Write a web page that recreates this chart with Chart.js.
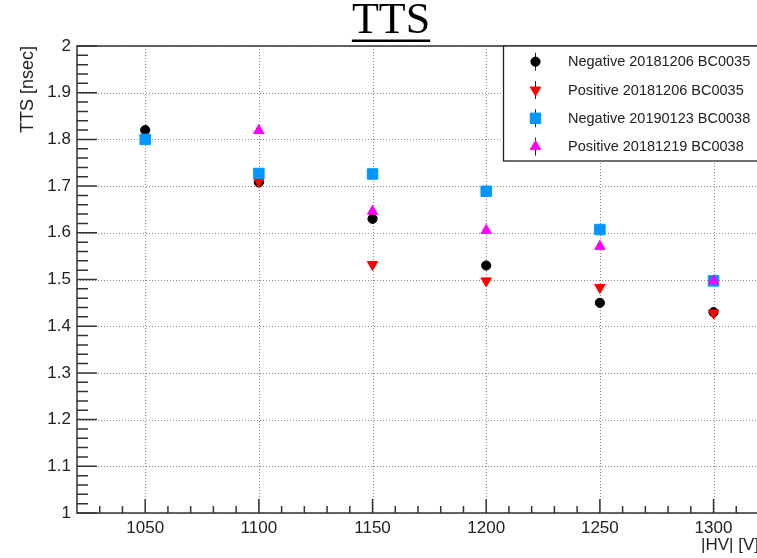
<!DOCTYPE html>
<html>
<head>
<meta charset="utf-8">
<script src="https://cdn.jsdelivr.net/npm/chart.js@4.4.1/dist/chart.umd.min.js"></script>
<style>
    html, body { margin: 0; padding: 0; background: #fff; overflow: hidden; }
    #okno { width: 757px; height: 558px; overflow: hidden; }
</style>
</head>
<body>
<div id="okno"><canvas id="wykres" width="790" height="558"></canvas></div>
<script>
// dane
const napiecia = [1050, 1100, 1150, 1200, 1250, 1300];
const neg20181206 = [1.82, 1.708, 1.63, 1.53, 1.45, 1.43];
const poz20181206 = [null, 1.71, 1.532, 1.497, 1.483, 1.428];
const neg20190123 = [1.80, 1.727, 1.726, 1.689, 1.607, 1.497];
const poz20181219 = [null, 1.819, 1.646, 1.605, 1.571, 1.497];
const nazwySerii = ['Negative 20181206 BC0035', 'Positive 20181206 BC0035', 'Negative 20190123 BC0038', 'Positive 20181219 BC0038'];
const xTicki = [1050, 1100, 1150, 1200, 1250, 1300];
const yTicki = [1, 1.1, 1.2, 1.3, 1.4, 1.5, 1.6, 1.7, 1.8, 1.9, 2];

const czcionka = '"Liberation Sans", Arial, Helvetica, sans-serif';

function punkty(wartosci) {
    return napiecia.map((x, i) => ({ x: x, y: wartosci[i] }));
}

const serie = [
    { dane: neg20181206, kolor: '#000000', styl: 'circle', promien: 4.6, obrot: 0 },
    { dane: poz20181206, kolor: '#ff0000', styl: 'triangle', promien: 6, obrot: 180 },
    { dane: neg20190123, kolor: '#0096ff', styl: 'rect', promien: 7.4, obrot: 0 },
    { dane: poz20181219, kolor: '#ff00ff', styl: 'triangle', promien: 6, obrot: 0 }
];

const datasets = serie.map((s, i) => ({
    label: nazwySerii[i],
    data: punkty(s.dane),
    backgroundColor: s.kolor,
    borderColor: s.kolor,
    borderWidth: 1,
    pointStyle: s.styl,
    pointRadius: s.promien,
    pointHoverRadius: s.promien,
    pointRotation: s.obrot,
    order: serie.length - i, // ostatnia seria rysowana na wierzchu
    showLine: false
}));

// siatka kropkowana, ramka i ticki do srodka (styl ROOT)
const ramka = {
    id: 'ramka',
    beforeDatasetsDraw(chart) {
        const { ctx, chartArea: a, scales: { x, y } } = chart;
        ctx.save();
        ctx.strokeStyle = '#8a8a8a';
        ctx.lineWidth = 1;
        ctx.setLineDash([1, 2]);
        xTicki.forEach(v => {
            const px = Math.round(x.getPixelForValue(v)) + 0.5;
            ctx.beginPath(); ctx.moveTo(px, a.top); ctx.lineTo(px, a.bottom); ctx.stroke();
        });
        yTicki.forEach(v => {
            const py = Math.round(y.getPixelForValue(v)) + 0.5;
            ctx.beginPath(); ctx.moveTo(a.left, py); ctx.lineTo(a.right, py); ctx.stroke();
        });
        ctx.restore();
    },
    afterDatasetsDraw(chart) {
        const { ctx, chartArea: a, scales: { x, y } } = chart;
        ctx.save();
        ctx.strokeStyle = '#333';
        ctx.lineWidth = 1.5;
        ctx.strokeRect(a.left, a.top, a.right - a.left, a.bottom - a.top);
        ctx.beginPath();
        // y: co 0.02, glowne co 0.1
        for (let i = 0; i <= 50; i++) {
            const py = y.getPixelForValue(1 + i * 0.02);
            const dl = i % 5 === 0 ? 20 : 11;
            ctx.moveTo(a.left, py); ctx.lineTo(a.left + dl, py);
        }
        // x: co 10, glowne co 50
        for (let v = x.min + 10; v < x.max; v += 10) {
            const px = x.getPixelForValue(v);
            const dl = v % 50 === 0 ? 14 : 7;
            ctx.moveTo(px, a.bottom); ctx.lineTo(px, a.bottom - dl);
        }
        ctx.stroke();
        ctx.restore();
    },
    afterDraw(chart) {
        const { ctx, chartArea: a } = chart;
        ctx.save();
        // tytul podkreslony
        ctx.font = '44px "Liberation Serif", "Times New Roman", serif';
        ctx.fillStyle = '#000';
        ctx.textAlign = 'center';
        ctx.textBaseline = 'alphabetic';
        const tekst = 'TTS';
        const sx = 391;
        ctx.fillText(tekst, sx, 33);
        const w = ctx.measureText(tekst).width;
        ctx.fillRect(sx - w / 2, 39.5, w, 2.5);

        // legenda
        const lewo = 503.5, gora = a.top, dol = 161;
        ctx.fillStyle = '#fff';
        ctx.fillRect(lewo, gora, a.right - lewo, dol - gora);
        ctx.strokeStyle = '#222';
        ctx.lineWidth = 1.3;
        ctx.strokeRect(lewo, gora, a.right - lewo, dol - gora);
        ctx.font = '14.5px ' + czcionka;
        ctx.textAlign = 'left';
        ctx.textBaseline = 'middle';
        chart.data.datasets.forEach((ds, i) => {
            const yy = 61.7 + i * 28.3;
            ctx.strokeStyle = '#222';
            ctx.lineWidth = 1;
            ctx.beginPath(); ctx.moveTo(535.5, yy - 9); ctx.lineTo(535.5, yy + 9); ctx.stroke();
            ctx.fillStyle = ds.backgroundColor;
            ctx.strokeStyle = ds.borderColor;
            Chart.helpers.drawPoint(ctx, { pointStyle: ds.pointStyle, radius: ds.pointRadius, rotation: ds.pointRotation, borderWidth: 1 }, 535.5, yy);
            ctx.fillStyle = '#222';
            ctx.fillText(ds.label, 568, yy + 0.5);
        });
        ctx.restore();
    }
};

new Chart(document.getElementById('wykres'), {
    type: 'scatter',
    data: { datasets: datasets },
    options: {
        responsive: false,
        devicePixelRatio: 1,
        animation: false,
        layout: { padding: { left: 0, top: 46, right: 31, bottom: 0 } },
        plugins: { legend: { display: false }, title: { display: false }, tooltip: { enabled: false } },
        scales: {
            x: {
                type: 'linear',
                min: 1020,
                max: 1320,
                afterBuildTicks: s => { s.ticks = xTicki.map(v => ({ value: v })); },
                afterFit: s => { s.height = 45; },
                grid: { display: false, drawTicks: false },
                border: { display: false },
                ticks: { color: '#222', padding: 5, maxRotation: 0, autoSkip: false, font: { family: czcionka, size: 17 },
                    callback: v => String(v) },
                title: { display: true, text: '|HV| [V]', align: 'end', color: '#222', padding: { top: 0, bottom: 2 }, font: { family: czcionka, size: 17 } }
            },
            y: {
                type: 'linear',
                min: 1,
                max: 2,
                afterBuildTicks: s => { s.ticks = yTicki.map(v => ({ value: v })); },
                afterFit: s => { s.width = 77; },
                grid: { display: false, drawTicks: false },
                border: { display: false },
                ticks: { color: '#222', padding: 6, autoSkip: false, font: { family: czcionka, size: 17 },
                    callback: v => String(Math.round(v * 10) / 10) },
                title: { display: true, text: 'TTS [nsec]', align: 'end', color: '#222', padding: { top: 17, bottom: 0 }, font: { family: czcionka, size: 18 } }
            }
        }
    },
    plugins: [ramka]
});
</script>
</body>
</html>
